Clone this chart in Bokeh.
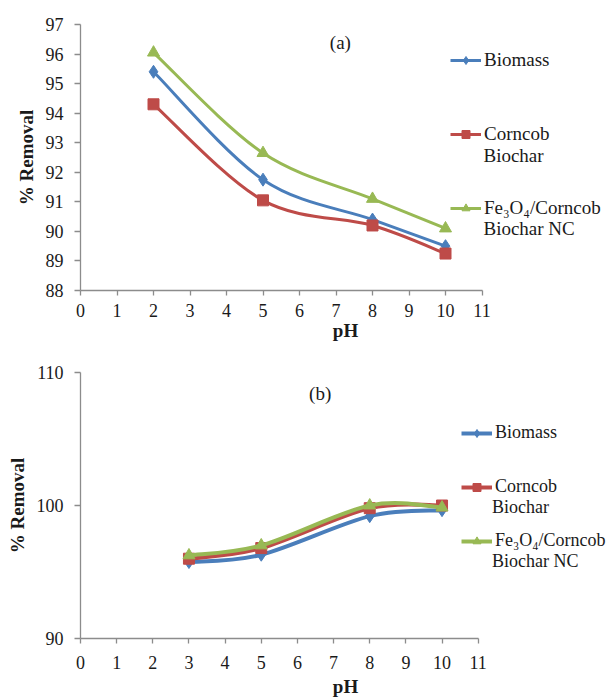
import numpy as np
from bokeh.plotting import figure
from bokeh.models import Legend, LegendItem, Label, FixedTicker, Range1d
from bokeh.layouts import column
from bokeh.embed import file_html
from bokeh.resources import INLINE

# ---------------- data ----------------
ph_a = [2, 5, 8, 10]
biomass_a = [95.4, 91.75, 90.4, 89.5]
corncob_a = [94.3, 91.05, 90.2, 89.25]
fe3o4_a = [96.05, 92.65, 91.1, 90.1]

ph_b = [3, 5, 8, 10]
biomass_b = [95.75, 96.3, 99.2, 99.65]
corncob_b = [96.0, 96.8, 99.8, 100.0]
fe3o4_b = [96.25, 97.0, 100.0, 99.85]

x_ticks = list(range(0, 12))
y_ticks_a = list(range(88, 98))
y_ticks_b = [90, 100, 110]

legend_first = ["Biomass", "Corncob", "Fe\u2083O\u2084/Corncob"]
legend_second = ["", "Biochar", "Biochar NC"]
colors = ["#4a7ebb", "#be4b48", "#98b954"]
markers = ["diamond", "square", "triangle"]
marker_sizes = [13, 11, 12]

FONT = "'Liberation Serif', 'Times New Roman', serif"
TXT = "#1a1a1a"
AXIS = "#8c8c8c"


def smooth(xs, ys):
    """Catmull-Rom style smoothing (as in spreadsheet 'smoothed line')."""
    x = np.asarray(xs, float)
    y = np.asarray(ys, float)
    xp = np.concatenate([[x[0]], x, [x[-1]]])
    yp = np.concatenate([[y[0]], y, [y[-1]]])
    n = len(x)
    d = dict(x0=[], y0=[], x1=[], y1=[], cx0=[], cy0=[], cx1=[], cy1=[])
    for i in range(n - 1):
        d["x0"].append(xp[i + 1]); d["y0"].append(yp[i + 1])
        d["x1"].append(xp[i + 2]); d["y1"].append(yp[i + 2])
        d["cx0"].append(xp[i + 1] + (xp[i + 2] - xp[i]) / 6)
        d["cy0"].append(yp[i + 1] + (yp[i + 2] - yp[i]) / 6)
        d["cx1"].append(xp[i + 2] - (xp[i + 3] - xp[i + 1]) / 6)
        d["cy1"].append(yp[i + 2] - (yp[i + 3] - yp[i + 1]) / 6)
    return d


def make_panel(ph, series, yr, yticks, height, bl, bt, bb, x_end, tag, tag_xy,
               leg_loc, leg_spacing, second_xy, lw, xlab_standoff, xtitle_standoff,
               leg_fs):
    p = figure(width=610, height=height, output_backend="svg", toolbar_location=None,
               x_range=Range1d(0, x_end), y_range=Range1d(*yr),
               min_border_left=bl, min_border_right=0, min_border_top=bt,
               min_border_bottom=bb)
    p.outline_line_color = None
    p.xgrid.visible = False
    p.ygrid.visible = False
    p.background_fill_color = "white"

    items = []
    for vals, name, c, m, ms in zip(series, legend_first, colors, markers, marker_sizes):
        d = smooth(ph, vals)
        lr = p.bezier(x0=d["x0"], y0=d["y0"], x1=d["x1"], y1=d["y1"],
                      cx0=d["cx0"], cy0=d["cy0"], cx1=d["cx1"], cy1=d["cy1"],
                      line_color=c, line_width=lw)
        sr = p.scatter(ph, vals, marker=m, size=ms, fill_color=c, line_color=c)
        items.append(LegendItem(label=name, renderers=[lr, sr]))

    leg = Legend(items=items, location=leg_loc, orientation="vertical",
                 border_line_alpha=0, background_fill_alpha=0,
                 padding=0, margin=0, spacing=leg_spacing,
                 glyph_width=31, glyph_height=20, label_height=20,
                 label_standoff=3, label_text_font=FONT,
                 label_text_font_size=leg_fs, label_text_color=TXT)
    p.add_layout(leg)

    for (sx, sy), txt in zip(second_xy, legend_second[1:]):
        p.add_layout(Label(x=sx, y=sy, text=txt, text_font=FONT, text_font_size=leg_fs,
                           text_color=TXT, text_align="left", text_baseline="middle"))

    p.add_layout(Label(x=tag_xy[0], y=tag_xy[1], text=tag, text_font=FONT,
                       text_font_size="19px", text_color=TXT,
                       text_align="center", text_baseline="middle"))

    for ax in (p.xaxis[0], p.yaxis[0]):
        ax.axis_line_color = AXIS
        ax.axis_line_width = 1.3
        ax.major_tick_line_color = AXIS
        ax.major_tick_line_width = 1.3
        ax.major_tick_in = 0
        ax.major_tick_out = 5
        ax.minor_tick_line_color = None
        ax.major_label_text_font = FONT
        ax.major_label_text_font_size = "18px"
        ax.major_label_text_color = TXT
        ax.axis_label_text_font = FONT
        ax.axis_label_text_font_size = "19px"
        ax.axis_label_text_font_style = "bold"
        ax.axis_label_text_color = TXT

    p.xaxis.ticker = FixedTicker(ticks=x_ticks)
    p.xaxis.bounds = (0, 11)
    p.yaxis.ticker = FixedTicker(ticks=yticks)
    p.xaxis.axis_label = "pH"
    p.yaxis.axis_label = "% Removal"
    p.xaxis.major_label_standoff = xlab_standoff
    p.xaxis.axis_label_standoff = xtitle_standoff
    p.yaxis.major_tick_out = 6
    p.yaxis.major_label_standoff = 11
    p.yaxis.axis_label_standoff = 6
    return p


p1 = make_panel(ph_a, [biomass_a, corncob_a, fe3o4_a], (88, 97), y_ticks_a,
                height=345, bl=80, bt=24, bb=55, x_end=14.52,
                tag="(a)", tag_xy=(7.12, 96.39),
                leg_loc=(370, 71), leg_spacing=52,
                second_xy=[(11.04, 92.57), (11.04, 90.10)], lw=3,
                xlab_standoff=8, xtitle_standoff=0, leg_fs="19px")

p2 = make_panel(ph_b, [biomass_b, corncob_b, fe3o4_b], (90, 110), y_ticks_b,
                height=354, bl=77, bt=27, bb=61, x_end=14.66,
                tag="(b)", tag_xy=(6.63, 108.42),
                leg_loc=(381, 87), leg_spacing=33,
                second_xy=[(11.38, 99.85), (11.38, 95.79)], lw=4,
                xlab_standoff=12, xtitle_standoff=4, leg_fs="18px")

layout = column(p1, p2, spacing=0)

open("out.html", "w").write(file_html(layout, INLINE))
